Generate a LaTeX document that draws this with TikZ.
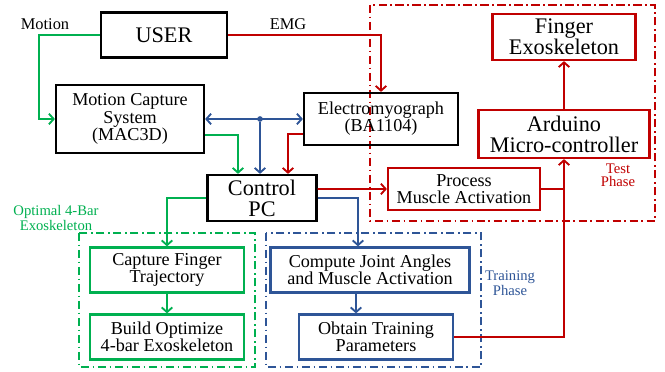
\documentclass[tikz,border=0pt]{standalone}
\usepackage{fontspec}
\setmainfont{Liberation Serif}
\usepackage{tikz}
\usetikzlibrary{arrows.meta, calc}

\definecolor{exred}{HTML}{C00000}
\definecolor{exgreen}{HTML}{00B050}
\definecolor{exblue}{HTML}{2E5597}

\begin{document}
\begin{tikzpicture}[x=0.03cm, y=-0.03cm,
  box/.style={draw, line width=1.9pt, align=center, inner sep=1pt},
  bigtxt/.style={font=\fontsize{19}{18}\selectfont},
  midtxt/.style={font=\fontsize{15.5}{14.6}\selectfont},
  tag/.style={font=\fontsize{12.5}{11.2}\selectfont, align=center},
  wire/.style={line width=1.6pt, -{Straight Barb[length=4pt, width=9pt, line width=1.6pt]}},
  zone/.style={line width=1.3pt, dash pattern=on 7pt off 3pt on 1.5pt off 3pt},
  hubdot/.style={circle, fill=exblue, inner sep=0pt, minimum size=0.17cm}]
\useasboundingbox (0,0) rectangle (665,372);

% Phase regions
\draw[zone, exred] (370,5) rectangle (655,221);
\draw[zone, exgreen] (79,233) rectangle (255,367);
\draw[zone, exblue] (266,233) rectangle (481,367);

% Hardware blocks
\node[box, bigtxt, minimum width=3.78cm, minimum height=1.35cm] (user) at (164,35) {USER};
\node[box, midtxt, minimum width=4.44cm, minimum height=2.04cm] (mocap) at (130,119) {Motion Capture\\System\\(MAC3D)};
\node[box, midtxt, minimum width=4.62cm, minimum height=1.56cm] (emg) at (381,119) {Electromyograph\\(BA1104)};
\node[box, bigtxt, minimum width=3.27cm, minimum height=1.38cm] (pc) at (262,198) {Control\\PC};

% Test phase
\node[box, bigtxt, draw=exred, minimum width=4.29cm, minimum height=1.38cm] (fing) at (564,37) {Finger\\Exoskeleton};
\node[box, bigtxt, draw=exred, minimum width=5.13cm, minimum height=1.44cm] (ard) at (564,134) {Arduino\\Micro-controller};
\node[box, midtxt, draw=exred, minimum width=4.56cm, minimum height=1.26cm] (proc) at (464,189) {Process\\Muscle Activation};

% Optimal 4-bar
\node[box, midtxt, draw=exgreen, minimum width=4.62cm, minimum height=1.35cm] (cap) at (167,270) {Capture Finger\\Trajectory};
\node[box, midtxt, draw=exgreen, minimum width=4.62cm, minimum height=1.35cm] (build) at (167,337) {Build Optimize\\4-bar Exoskeleton};

% Training phase
\node[box, midtxt, draw=exblue, minimum width=5.97cm, minimum height=1.35cm] (comp) at (370,270) {Compute Joint Angles\\and Muscle Activation};
\node[box, midtxt, draw=exblue, minimum width=4.62cm, minimum height=1.35cm] (obt) at (376,337) {Obtain Training\\Parameters};

% Labels
\node[font=\fontsize{14}{14}\selectfont] (lmotion) at (45,24) {Motion};
\node[font=\fontsize{14}{14}\selectfont] (lemg) at (288,24) {EMG};
\node[tag, text=exgreen] (lopt) at (56,218) {Optimal 4-Bar\\Exoskeleton};
\node[tag, text=exblue] (ltrain) at (510,283) {Training\\Phase};
\node[tag, text=exred] (ltest) at (618,175) {Test\\Phase};

% Signals from the user
\draw[wire, exgreen] (user.west) -| ([xshift=-0.48cm]mocap.west) -- (mocap.west);
\draw[wire, exred] (user.east) -| (emg.north);

% Links into the PC
\node[hubdot] (hub) at (260,119) {};
\draw[wire, exblue, {Straight Barb[length=4pt, width=9pt, line width=1.6pt]}-{Straight Barb[length=4pt, width=9pt, line width=1.6pt]}] (mocap.east) -- (emg.west);
\draw[wire, exblue] (hub) -- (hub |- pc.north);
\draw[wire, exgreen] ([yshift=-0.48cm]mocap.east) -| ([xshift=-0.72cm]pc.north);
\draw[wire, exred] ([yshift=-0.45cm]emg.west) -| ([xshift=0.78cm]pc.north);

% Outputs of the PC
\draw[wire, exred] ([yshift=0.27cm]pc.east) -- (proc.west);
\draw[wire, exblue] (pc.east) -| ([xshift=-0.36cm]comp.north);
\draw[wire, exgreen] (pc.west) -| (cap.north);
\draw[wire, exgreen] (cap.south) -- (build.north);
\coordinate (otop) at ([xshift=-0.6cm]obt.north);
\draw[wire, exblue] (otop |- comp.south) -- (otop);

% Test phase chain
\draw[wire, exred] (obt.east) -| (ard.south);
\draw[line width=1.6pt, exred] (proc.east) -- (proc.east -| ard.south);
\draw[wire, exred] (ard.north) -- (fing.south);
\end{tikzpicture}
\end{document}
